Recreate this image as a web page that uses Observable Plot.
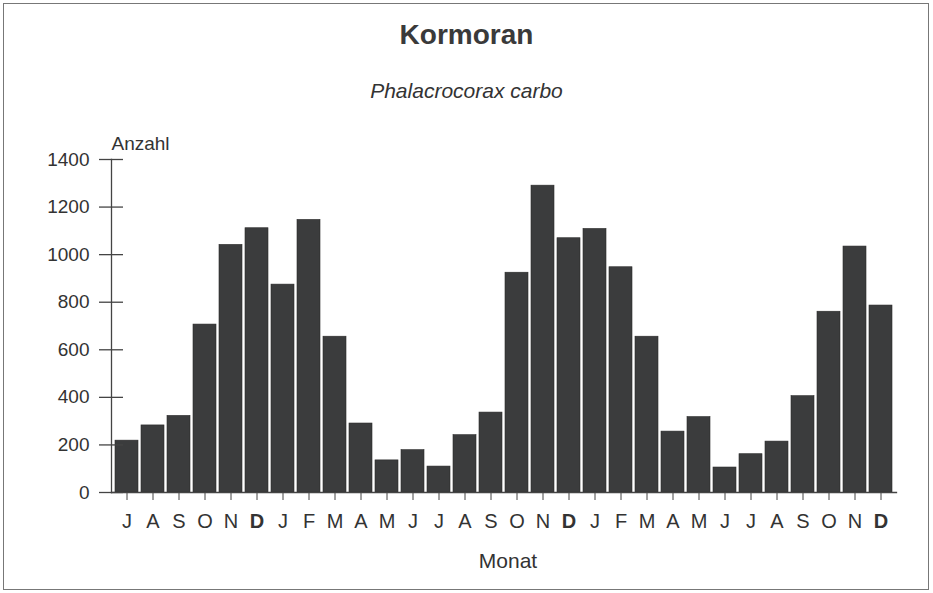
<!DOCTYPE html>
<html><head><meta charset="utf-8">
<script src="https://cdn.jsdelivr.net/npm/d3@7"></script>
<script src="https://cdn.jsdelivr.net/npm/@observablehq/plot@0.6"></script>
<style>
body{margin:0;background:#fff;}
#wrap{position:relative;width:933px;height:593px;overflow:hidden;font-family:"Liberation Sans",Arial,Helvetica,sans-serif;color:#333;}
#border{position:absolute;left:3px;top:3px;width:926px;height:587px;border:1.5px solid #777;box-sizing:border-box;}
.t{position:absolute;left:0;width:933px;text-align:center;white-space:nowrap;}
#title{top:21px;font-size:28px;line-height:28px;font-weight:bold;color:#3a3a3a;}
#subtitle{top:80px;font-size:21px;line-height:21px;font-style:italic;color:#333;}
#chart{position:absolute;left:0;top:0;}
</style>
</head><body>
<div id="wrap">
  <div id="border"></div>
  <div id="title" class="t">Kormoran</div>
  <div id="subtitle" class="t">Phalacrocorax carbo</div>
  <div id="chart"></div>
</div>
<script>
const months = ["J","A","S","O","N","D","J","F","M","A","M","J","J","A","S","O","N","D","J","F","M","A","M","J","J","A","S","O","N","D"];
const values = [218, 282, 322, 706, 1041, 1111, 874, 1146, 655, 290, 135, 178, 109, 241, 336, 924, 1290, 1069, 1108, 947, 655, 256, 317, 105, 161, 214, 405, 760, 1034, 786];
const yTicks = [0, 200, 400, 600, 800, 1000, 1200, 1400];
const yLabel = "Anzahl";
const xLabel = "Monat";

const data = months.map((m, i) => ({i, m, v: values[i]}));
const idx = data.map(d => d.i);
const boldIdx = idx.filter(i => months[i] === "D");
const normIdx = idx.filter(i => months[i] !== "D");
const fmt = i => months[i];
const ink = "#333";

const chart = Plot.plot({
  width: 933,
  height: 593,
  marginTop: 159,
  marginBottom: 101,
  marginLeft: 111,
  marginRight: 37,
  style: {fontFamily: '"Liberation Sans", Arial, Helvetica, sans-serif', color: ink, background: "transparent", overflow: "visible"},
  x: {type: "band", domain: idx, paddingInner: 0.11, paddingOuter: 0.06},
  y: {domain: [0, 1400]},
  marks: [
    Plot.barY(data, {x: "i", y: "v", fill: "#3b3c3d", stroke: "#2a2a2a", strokeWidth: 0.6}),
    Plot.frame({anchor: "left", stroke: "#444", strokeWidth: 1.3}),
    Plot.frame({anchor: "bottom", stroke: "#444", strokeWidth: 1.3}),
    Plot.axisY(yTicks, {tickSize: 24, dx: 12, tickPadding: 10, fontSize: 19, tickFormat: d => String(d), stroke: "#444", strokeWidth: 1.3, label: null}),
    Plot.axisX(normIdx, {tickSize: 8, tickPadding: 13, fontSize: 20, tickFormat: fmt, stroke: "#444", label: null}),
    Plot.axisX(boldIdx, {tickSize: 8, tickPadding: 13, fontSize: 20, fontWeight: "bold", tickFormat: fmt, stroke: "#444", label: null}),
    Plot.text([yLabel], {frameAnchor: "top-left", textAnchor: "start", lineAnchor: "bottom", dy: -10, fontSize: 19, fill: ink}),
    Plot.text([xLabel], {frameAnchor: "bottom", lineAnchor: "bottom", dy: 75, dx: 4, fontSize: 21, fill: ink})
  ]
});
document.getElementById("chart").appendChild(chart);
</script>
</body></html>
